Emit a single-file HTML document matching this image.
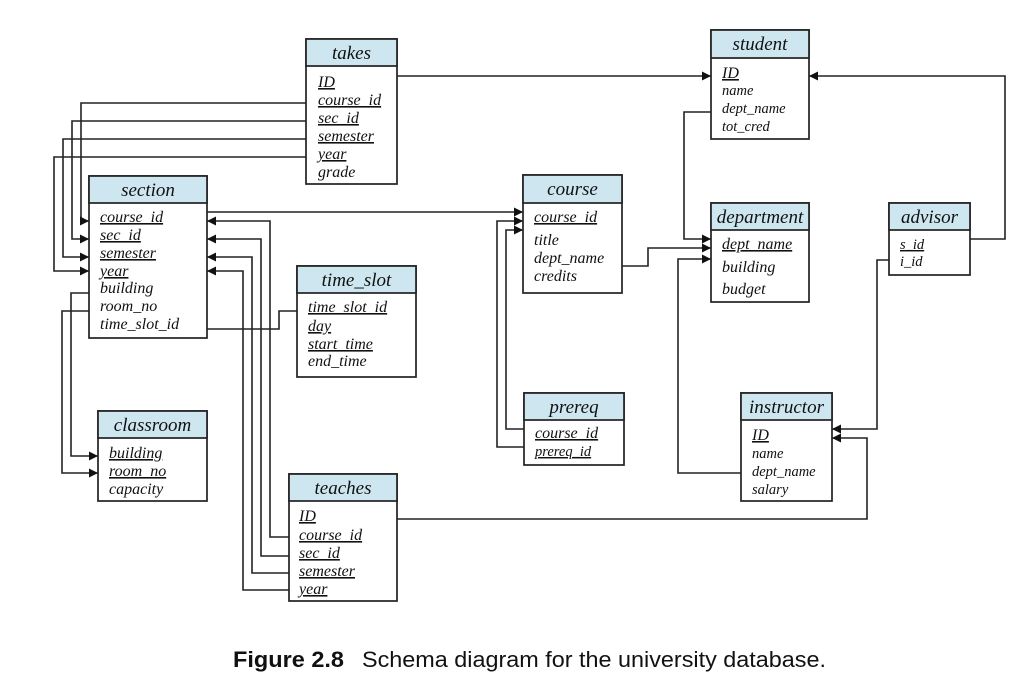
<!DOCTYPE html>
<html><head><meta charset="utf-8"><style>
html,body{margin:0;padding:0;background:#fff;}
svg{display:block;}
.h{font-family:"Liberation Serif",serif;font-style:italic;font-size:19px;fill:#111;}
.f{font-family:"Liberation Serif",serif;font-style:italic;font-size:16px;fill:#111;}
.s{font-family:"Liberation Serif",serif;font-style:italic;font-size:14.5px;fill:#111;}
.u{text-decoration:underline;}
.box{fill:#fff;stroke:#222;stroke-width:1.7;}
.hd{fill:#cee6ef;stroke:#222;stroke-width:1.7;}
.ln{fill:none;stroke:#222;stroke-width:1.6;}
.cap{font-family:"Liberation Sans",sans-serif;font-size:22px;fill:#111;}
</style></head><body>
<svg width="1024" height="683" viewBox="0 0 1024 683" xmlns="http://www.w3.org/2000/svg">
<defs>
<marker id="a" markerWidth="9" markerHeight="9" refX="9" refY="4.5" orient="auto" markerUnits="userSpaceOnUse">
<path d="M0,0 L9,4.5 L0,9 Z" fill="#111"/></marker>
</defs>

<g class="ln">
<polyline points="306,103 81,103 81,221 89,221" marker-end="url(#a)"/>
<polyline points="306,121 72,121 72,239 89,239" marker-end="url(#a)"/>
<polyline points="306,139 63,139 63,257 89,257" marker-end="url(#a)"/>
<polyline points="306,157 54,157 54,271 89,271" marker-end="url(#a)"/>
<polyline points="397,76 711,76" marker-end="url(#a)"/>
<polyline points="207,212 523,212" marker-end="url(#a)"/>
<polyline points="289,537 270,537 270,221 207,221" marker-end="url(#a)"/>
<polyline points="289,556 261,556 261,239 207,239" marker-end="url(#a)"/>
<polyline points="289,573 252,573 252,257 207,257" marker-end="url(#a)"/>
<polyline points="289,590 243,590 243,271 207,271" marker-end="url(#a)"/>
<polyline points="89,293 71,293 71,456 98,456" marker-end="url(#a)"/>
<polyline points="89,311 62,311 62,473 98,473" marker-end="url(#a)"/>
<polyline points="207,329 279,329 279,311 297,311"/>
<polyline points="524,429 506,429 506,230 523,230" marker-end="url(#a)"/>
<polyline points="524,447 497,447 497,221 523,221" marker-end="url(#a)"/>
<polyline points="622,266 648,266 648,248 711,248" marker-end="url(#a)"/>
<polyline points="711,112 684,112 684,239 711,239" marker-end="url(#a)"/>
<polyline points="741,473 678,473 678,259 711,259" marker-end="url(#a)"/>
<polyline points="970,239 1005,239 1005,76 809,76" marker-end="url(#a)"/>
<polyline points="889,260 877,260 877,429 832,429" marker-end="url(#a)"/>
<polyline points="397,519 867,519 867,438 832,438" marker-end="url(#a)"/>
</g>

<rect class="box" x="306" y="39" width="91" height="145"/>
<rect class="hd" x="306" y="39" width="91" height="27"/>
<text class="h" x="351.5" y="59" text-anchor="middle">takes</text>
<text class="f u" x="318" y="87">ID</text>
<text class="f u" x="318" y="105">course_id</text>
<text class="f u" x="318" y="123">sec_id</text>
<text class="f u" x="318" y="141">semester</text>
<text class="f u" x="318" y="159">year</text>
<text class="f" x="318" y="177">grade</text>

<rect class="box" x="89" y="176" width="118" height="162"/>
<rect class="hd" x="89" y="176" width="118" height="27"/>
<text class="h" x="148" y="196" text-anchor="middle">section</text>
<text class="f u" x="100" y="222">course_id</text>
<text class="f u" x="100" y="240">sec_id</text>
<text class="f u" x="100" y="258">semester</text>
<text class="f u" x="100" y="276">year</text>
<text class="f" x="100" y="293">building</text>
<text class="f" x="100" y="311">room_no</text>
<text class="f" x="100" y="329">time_slot_id</text>

<rect class="box" x="297" y="266" width="119" height="111"/>
<rect class="hd" x="297" y="266" width="119" height="27"/>
<text class="h" x="356.5" y="286" text-anchor="middle">time_slot</text>
<text class="f u" x="308" y="312">time_slot_id</text>
<text class="f u" x="308" y="331">day</text>
<text class="f u" x="308" y="349">start_time</text>
<text class="f" x="308" y="366">end_time</text>

<rect class="box" x="98" y="411" width="109" height="90"/>
<rect class="hd" x="98" y="411" width="109" height="27"/>
<text class="h" x="152.5" y="431" text-anchor="middle">classroom</text>
<text class="f u" x="109" y="458">building</text>
<text class="f u" x="109" y="476">room_no</text>
<text class="f" x="109" y="494">capacity</text>

<rect class="box" x="289" y="474" width="108" height="127"/>
<rect class="hd" x="289" y="474" width="108" height="27"/>
<text class="h" x="343" y="494" text-anchor="middle">teaches</text>
<text class="f u" x="299" y="521">ID</text>
<text class="f u" x="299" y="540">course_id</text>
<text class="f u" x="299" y="558">sec_id</text>
<text class="f u" x="299" y="576">semester</text>
<text class="f u" x="299" y="594">year</text>

<rect class="box" x="711" y="30" width="98" height="109"/>
<rect class="hd" x="711" y="30" width="98" height="28"/>
<text class="h" x="760" y="50" text-anchor="middle">student</text>
<text class="f u" x="722" y="78">ID</text>
<text class="s" x="722" y="95">name</text>
<text class="s" x="722" y="113">dept_name</text>
<text class="s" x="722" y="131">tot_cred</text>

<rect class="box" x="523" y="175" width="99" height="118"/>
<rect class="hd" x="523" y="175" width="99" height="28"/>
<text class="h" x="572.5" y="195" text-anchor="middle">course</text>
<text class="f u" x="534" y="222">course_id</text>
<text class="f" x="534" y="245">title</text>
<text class="f" x="534" y="263">dept_name</text>
<text class="f" x="534" y="281">credits</text>

<rect class="box" x="711" y="203" width="98" height="99"/>
<rect class="hd" x="711" y="203" width="98" height="27"/>
<text class="h" x="760" y="223" text-anchor="middle">department</text>
<text class="f u" x="722" y="249">dept_name</text>
<text class="f" x="722" y="272">building</text>
<text class="f" x="722" y="294">budget</text>

<rect class="box" x="889" y="203" width="81" height="72"/>
<rect class="hd" x="889" y="203" width="81" height="27"/>
<text class="h" x="929.5" y="223" text-anchor="middle">advisor</text>
<text class="s u" x="900" y="249">s_id</text>
<text class="s" x="900" y="266">i_id</text>

<rect class="box" x="524" y="393" width="100" height="72"/>
<rect class="hd" x="524" y="393" width="100" height="27"/>
<text class="h" x="574" y="413" text-anchor="middle">prereq</text>
<text class="f u" x="535" y="438">course_id</text>
<text class="s u" x="535" y="456">prereq_id</text>

<rect class="box" x="741" y="393" width="91" height="108"/>
<rect class="hd" x="741" y="393" width="91" height="27"/>
<text class="h" x="786.5" y="413" text-anchor="middle">instructor</text>
<text class="f u" x="752" y="440">ID</text>
<text class="s" x="752" y="458">name</text>
<text class="s" x="752" y="476">dept_name</text>
<text class="s" x="752" y="494">salary</text>

<text class="cap" x="233" y="667" font-weight="bold" textLength="111" lengthAdjust="spacingAndGlyphs">Figure 2.8</text>
<text class="cap" x="362" y="667" textLength="464" lengthAdjust="spacingAndGlyphs">Schema diagram for the university database.</text>
</svg>
</body></html>
